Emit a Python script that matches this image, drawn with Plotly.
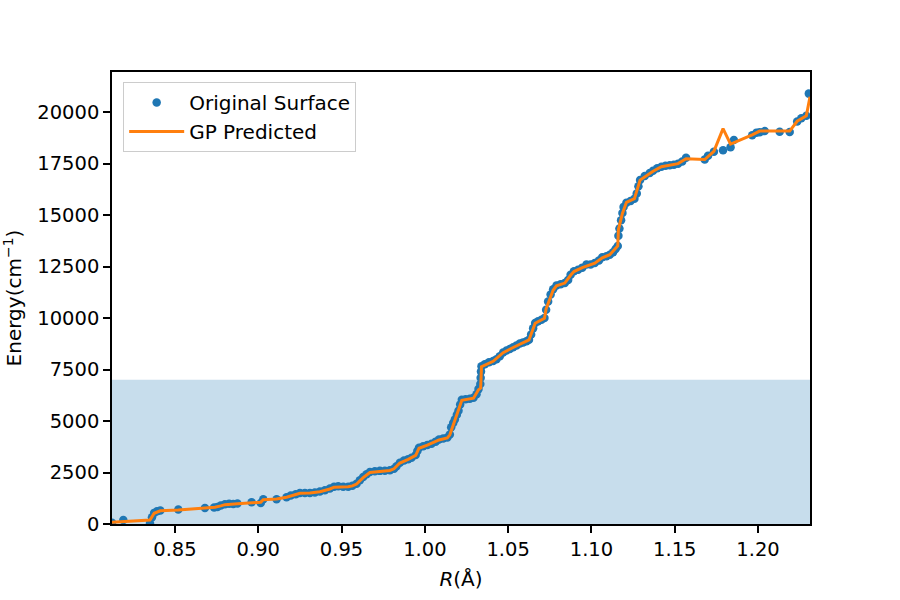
import plotly.graph_objects as go

# Original surface samples (R in Angstrom, energy in cm^-1)
orig_r = [0.8122, 0.8190, 0.8350, 0.8362, 0.8375, 0.8392, 0.8412, 0.8520,
          0.8680, 0.8735, 0.8755, 0.8775, 0.8800, 0.8825, 0.8850, 0.8875,
          0.8960, 0.9015, 0.9030, 0.9110, 0.9170, 0.9195, 0.9225, 0.9250,
          0.9280, 0.9310, 0.9340, 0.9370, 0.9400, 0.9430, 0.9455, 0.9480,
          0.9510, 0.9540, 0.9565, 0.9590, 0.9610, 0.9630, 0.9650, 0.9670,
          0.9700, 0.9730, 0.9760, 0.9790, 0.9815, 0.9830, 0.9850, 0.9875,
          0.9900, 0.9920, 0.9945, 0.9955, 0.9965, 0.9990, 1.0015, 1.0040,
          1.0065, 1.0085, 1.0110, 1.0135, 1.0150, 1.0158, 1.0170, 1.0180,
          1.0192, 1.0202, 1.0212, 1.0222, 1.0245, 1.0270, 1.0292, 1.0310,
          1.0322, 1.0333, 1.0335, 1.0337, 1.0340, 1.0360, 1.0385, 1.0410,
          1.0430, 1.0450, 1.0470, 1.0490, 1.0510, 1.0530, 1.0550, 1.0570,
          1.0590, 1.0610, 1.0625, 1.0638, 1.0650, 1.0662, 1.0680, 1.0700,
          1.0718, 1.0728, 1.0740, 1.0755, 1.0770, 1.0790, 1.0815, 1.0840,
          1.0860, 1.0875, 1.0895, 1.0920, 1.0945, 1.0970, 1.0995, 1.1020,
          1.1045, 1.1065, 1.1090, 1.1110, 1.1130, 1.1145, 1.1158, 1.1162,
          1.1168, 1.1178, 1.1186, 1.1193, 1.1210, 1.1235, 1.1258, 1.1272,
          1.1282, 1.1292, 1.1320, 1.1350, 1.1370, 1.1395, 1.1420, 1.1445,
          1.1470, 1.1495, 1.1520, 1.1545, 1.1568, 1.1680, 1.1700, 1.1735,
          1.1790, 1.1835, 1.1855, 1.1965, 1.1990, 1.2010, 1.2040, 1.2130,
          1.2190, 1.2235, 1.2260, 1.2290, 1.2305]
orig_e = [60, 190, 40, 330, 540, 620, 660, 700,
          780, 800, 830, 900, 960, 980, 975, 990,
          1060, 1020, 1200, 1200, 1300, 1380, 1450, 1500,
          1510, 1510, 1530, 1580, 1640, 1720, 1810, 1830,
          1810, 1810, 1860, 1950, 2130, 2280, 2420, 2520,
          2560, 2580, 2590, 2610, 2680, 2800, 2980, 3080,
          3150, 3220, 3350, 3550, 3700, 3780, 3840, 3900,
          4000, 4100, 4150, 4200, 4350, 4700, 4900, 5080,
          5300, 5500, 5800, 6030, 6060, 6080, 6130, 6300,
          6550, 6800, 7100, 7400, 7660, 7760, 7850, 7920,
          8000, 8150, 8330, 8420, 8500, 8580, 8670, 8760,
          8820, 8870, 8950, 9200, 9500, 9760, 9850, 9920,
          10000, 10400, 10800, 11150, 11400, 11580, 11640, 11700,
          11850, 12100, 12270, 12350, 12450, 12600, 12600, 12680,
          12800, 12950, 13000, 13080, 13200, 13350, 13500, 14000,
          14350, 14750, 15100, 15400, 15600, 15680, 15800, 16050,
          16400, 16700, 16900, 17050, 17150, 17280, 17350, 17400,
          17420, 17450, 17500, 17600, 17790, 17700, 17880, 18080,
          18150, 18300, 18650, 18880, 19000, 19030, 19080, 19050,
          19040, 19550, 19700, 19820, 20900]

# GP predicted curve
gp_r = [0.8122, 0.8190, 0.8350, 0.8375, 0.8412, 0.8520, 0.8680, 0.8740,
        0.8775, 0.8800, 0.8875, 0.8960, 0.9015, 0.9030, 0.9110, 0.9170,
        0.9225, 0.9250, 0.9310, 0.9370, 0.9430, 0.9455, 0.9540, 0.9565,
        0.9590, 0.9630, 0.9670, 0.9790, 0.9815, 0.9850, 0.9900, 0.9945,
        0.9965, 1.0015, 1.0085, 1.0135, 1.0150, 1.0180, 1.0202, 1.0222,
        1.0292, 1.0322, 1.0335, 1.0340, 1.0410, 1.0470, 1.0530, 1.0610,
        1.0625, 1.0662, 1.0718, 1.0728, 1.0770, 1.0790, 1.0840, 1.0875,
        1.0895, 1.0945, 1.1020, 1.1065, 1.1110, 1.1158, 1.1162, 1.1186,
        1.1210, 1.1258, 1.1292, 1.1370, 1.1420, 1.1520, 1.1568, 1.1680,
        1.1735, 1.1790, 1.1835, 1.1965, 1.2010, 1.2190, 1.2235, 1.2290,
        1.2312]
gp_e = [80, 120, 190, 520, 640, 680, 770, 810,
        880, 940, 980, 1040, 1060, 1180, 1210, 1300,
        1440, 1490, 1510, 1570, 1700, 1790, 1810, 1850,
        1940, 2250, 2500, 2600, 2680, 2960, 3140, 3330,
        3680, 3830, 4080, 4180, 4330, 5050, 5470, 6010,
        6110, 6520, 6600, 7640, 7900, 8320, 8570, 8860,
        8940, 9750, 9990, 10450, 11350, 11570, 11700, 12080,
        12260, 12450, 12670, 12930, 13080, 13500, 14300, 15080,
        15620, 15800, 16700, 17130, 17350, 17500, 17740, 17700,
        18100, 19200, 18450, 18900, 19080, 19080, 19560, 19820,
        20750]

shade_r = [0.8122, 1.2312]
shade_e = [7000, 7000]

x_ticks = [0.85, 0.90, 0.95, 1.00, 1.05, 1.10, 1.15, 1.20]
y_ticks = [0, 2500, 5000, 7500, 10000, 12500, 15000, 17500, 20000]

fig = go.Figure()
fig.add_trace(go.Scatter(x=shade_r, y=shade_e, mode="lines", fill="tozeroy",
                         line=dict(width=0, color="rgba(31,119,180,0)"),
                         fillcolor="rgba(31,119,180,0.25)", showlegend=False,
                         hoverinfo="skip"))
fig.add_trace(go.Scatter(x=orig_r, y=orig_e, mode="markers", name="Original Surface",
                         marker=dict(color="#1f77b4", size=8.5, line=dict(width=0))))
fig.add_trace(go.Scatter(x=gp_r, y=gp_e, mode="lines", name="GP Predicted",
                         line=dict(color="#ff7f0e", width=3)))

axis_common = dict(showline=True, linecolor="black", linewidth=1.5, mirror=True,
                   ticks="outside", ticklen=7, tickwidth=1.5, tickcolor="black",
                   showgrid=False, zeroline=False,
                   tickfont=dict(family="DejaVu Sans", size=19.5, color="black"))

fig.update_layout(
    width=900, height=600,
    margin=dict(l=112, r=90, t=72, b=76),
    plot_bgcolor="white", paper_bgcolor="white",
    font=dict(family="DejaVu Sans", size=19.5, color="black"),
    xaxis=dict(range=[0.8122, 1.2312], tickvals=x_ticks,
               ticktext=[f"{v:.2f}" for v in x_ticks],
               title=dict(text="<i>R</i>(Å)", standoff=12,
                          font=dict(family="DejaVu Sans", size=20)),
               **axis_common),
    yaxis=dict(range=[0, 21950], tickvals=y_ticks,
               ticktext=[str(v) for v in y_ticks],
               title=dict(text="Energy(cm<sup>−1</sup>)", standoff=10,
                          font=dict(family="DejaVu Sans", size=20)),
               **axis_common),
    legend=dict(x=0.016, y=0.978, xanchor="left", yanchor="top",
                bgcolor="rgba(255,255,255,0.8)", bordercolor="#cccccc", borderwidth=1,
                font=dict(family="DejaVu Sans", size=20), tracegroupgap=0,
                itemwidth=55),
)

fig.write_html("out.html")
